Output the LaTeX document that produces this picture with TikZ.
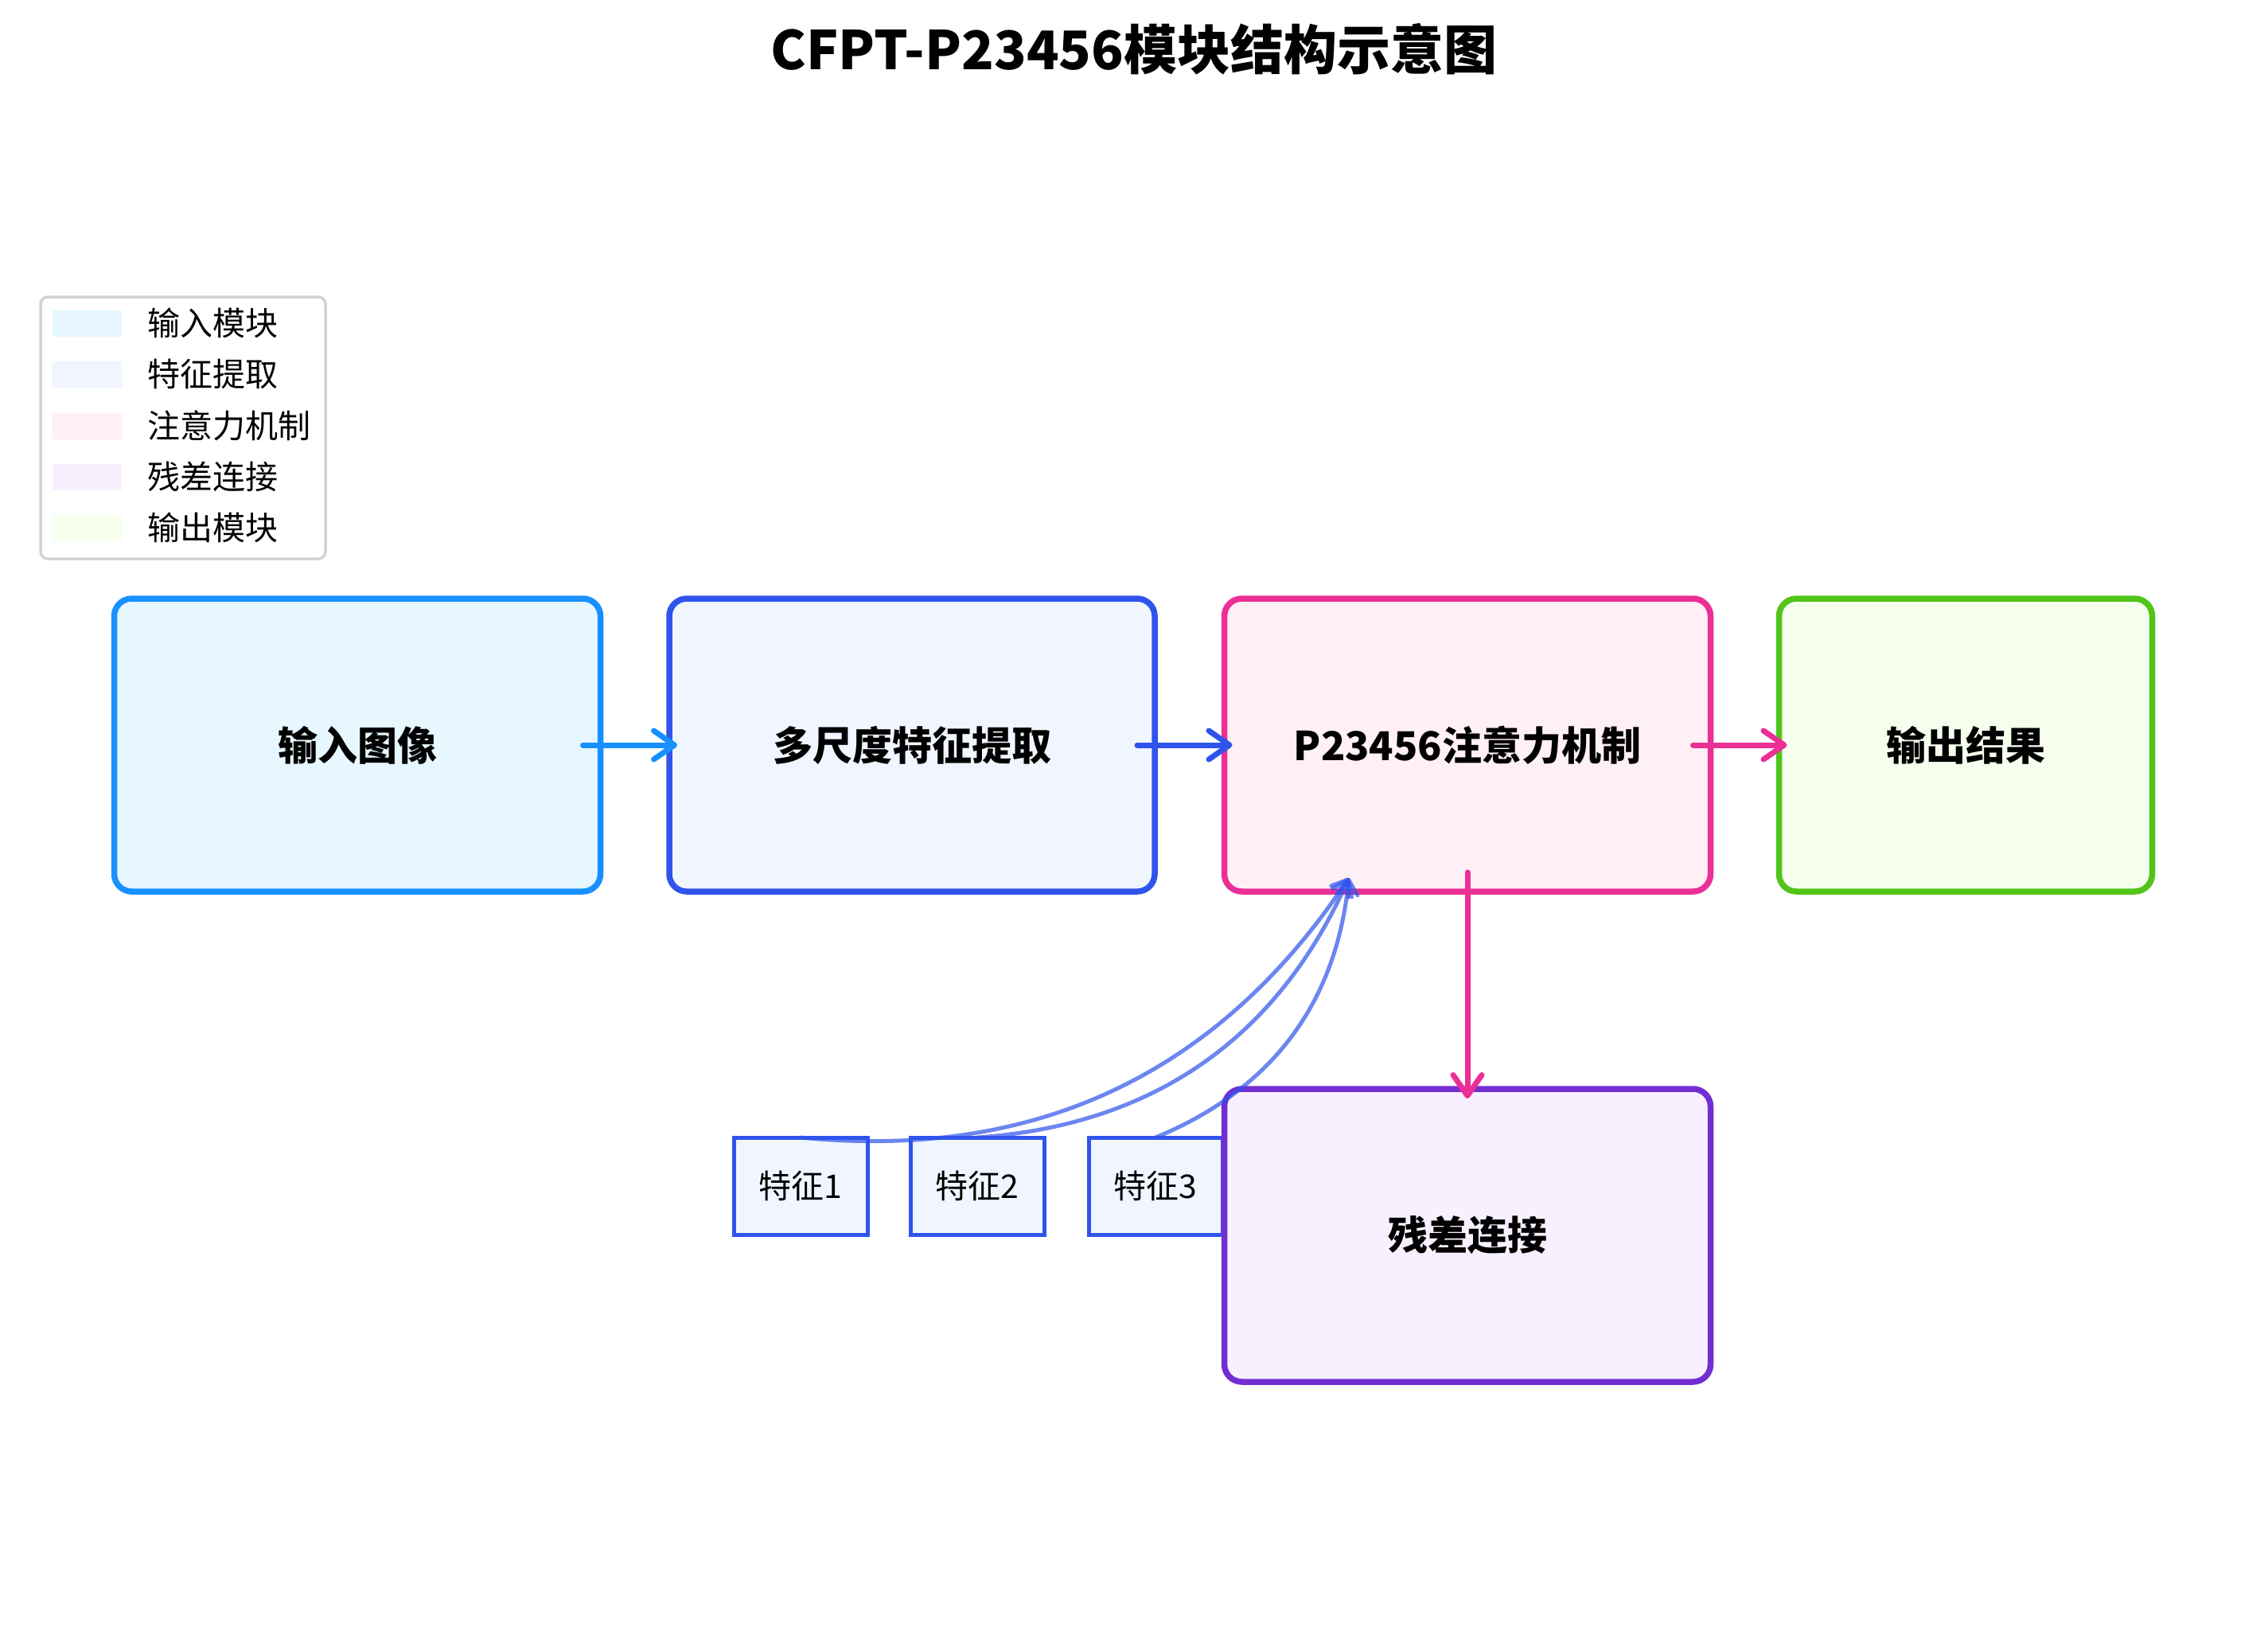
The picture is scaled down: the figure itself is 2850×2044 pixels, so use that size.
\documentclass[tikz,border=0pt]{standalone}
\usepackage{fontspec}
\setmainfont{Noto Sans CJK SC}
\usetikzlibrary{arrows.meta,calc}
\definecolor{inB}{HTML}{1890FF}\definecolor{inF}{HTML}{E6F7FF}
\definecolor{feB}{HTML}{2F54EB}\definecolor{feF}{HTML}{F0F5FF}
\definecolor{atB}{HTML}{EB2F96}\definecolor{atF}{HTML}{FFF0F6}
\definecolor{ouB}{HTML}{52C41A}\definecolor{ouF}{HTML}{F6FFED}
\definecolor{reB}{HTML}{722ED1}\definecolor{reF}{HTML}{F9F0FF}
\definecolor{lgB}{HTML}{D3D3D3}
\begin{document}
\begin{tikzpicture}[x=1pt,y=-1pt,
  mainbox/.style={draw, line width=7.5pt, rounded corners=22pt, minimum height=368pt,
    inner sep=0pt, outer sep=0pt, font=\fontsize{50}{60}\selectfont\bfseries},
  featbox/.style={draw=feB, fill=feF, line width=5pt, minimum width=168pt,
    minimum height=122pt, inner sep=0pt, outer sep=0pt, font=\fontsize{41}{49}\selectfont},
  mainarrow/.style={line width=7pt, line cap=round, line join=round,
    -{Straight Barb[length=26pt,width=36pt,round]}},
  featarrow/.style={draw=feB, draw opacity=0.7, line width=5pt, line cap=round, line join=round,
    -{Straight Barb[length=18pt,width=26pt,round]}},
  legswatch/.style={minimum width=87pt, minimum height=33pt, inner sep=0pt, outer sep=0pt},
  legtext/.style={anchor=west, inner sep=0pt, font=\fontsize{41}{49}\selectfont}
]
\useasboundingbox[fill=white] (0,0) rectangle (2850,2044);

% title
\node (title) at (1425,62) {\fontsize{67}{80}\selectfont\bfseries CFPT-P23456模块结构示意图};

% legend
\node[draw=lgB, line width=3.5pt, rounded corners=9pt, fill=white, minimum width=358pt,
  minimum height=329pt, inner sep=0pt] (legend) at (230,537.5) {};
\node[legswatch, fill=inF] (s1) at (109.5,406) {};
\node[legswatch, fill=feF] (s2) at (109.5,470) {};
\node[legswatch, fill=atF] (s3) at (109.5,535) {};
\node[legswatch, fill=reF] (s4) at (109.5,599) {};
\node[legswatch, fill=ouF] (s5) at (109.5,663) {};
\node[legtext] (l1) at (185,406) {输入模块};
\node[legtext] (l2) at (185,470) {特征提取};
\node[legtext] (l3) at (185,535) {注意力机制};
\node[legtext] (l4) at (185,599) {残差连接};
\node[legtext] (l5) at (185,663) {输出模块};

% main boxes
\node[mainbox, draw=inB, fill=inF, minimum width=611pt] (in)   at (449,936)  {输入图像};
\node[mainbox, draw=feB, fill=feF, minimum width=610pt] (feat) at (1146,936) {多尺度特征提取};
\node[mainbox, draw=atB, fill=atF, minimum width=611pt] (att)  at (1844,936) {P23456注意力机制};
\node[mainbox, draw=ouB, fill=ouF, minimum width=469pt] (out)  at (2470,936) {输出结果};

% feature boxes
\node[featbox] (f1) at (1006,1490) {特征1};
\node[featbox] (f2) at (1228,1490) {特征2};
\node[featbox] (f3) at (1452,1490) {特征3};

% residual box
\node[mainbox, draw=reB, fill=reF, minimum width=611pt] (res) at (1844,1552) {残差连接};

% main arrows
\draw[mainarrow, inB] ([xshift=-22pt]in.east) -- ([xshift=10pt]feat.west);
\draw[mainarrow, feB] ([xshift=-22pt]feat.east) -- ([xshift=10pt]att.west);
\draw[mainarrow, atB] ([xshift=-22pt]att.east) -- ([xshift=10pt]out.west);
\draw[mainarrow, atB] ([yshift=24pt]att.south) -- ([yshift=-12pt]res.north);

% feature curves
\coordinate (attin) at ([xshift=-149pt,yshift=17pt]att.south);
\foreach \f in {f1,f2,f3}{
  \coordinate (m\f) at ($(\f.north)!0.5!(attin)$);
  \coordinate (c\f) at ($(m\f)!0.6!-90:(attin)$);
  \draw[featarrow] (\f.north) .. controls ($(\f.north)!0.6667!(c\f)$) and ($(attin)!0.6667!(c\f)$) .. (attin);
}
\end{tikzpicture}
\end{document}
